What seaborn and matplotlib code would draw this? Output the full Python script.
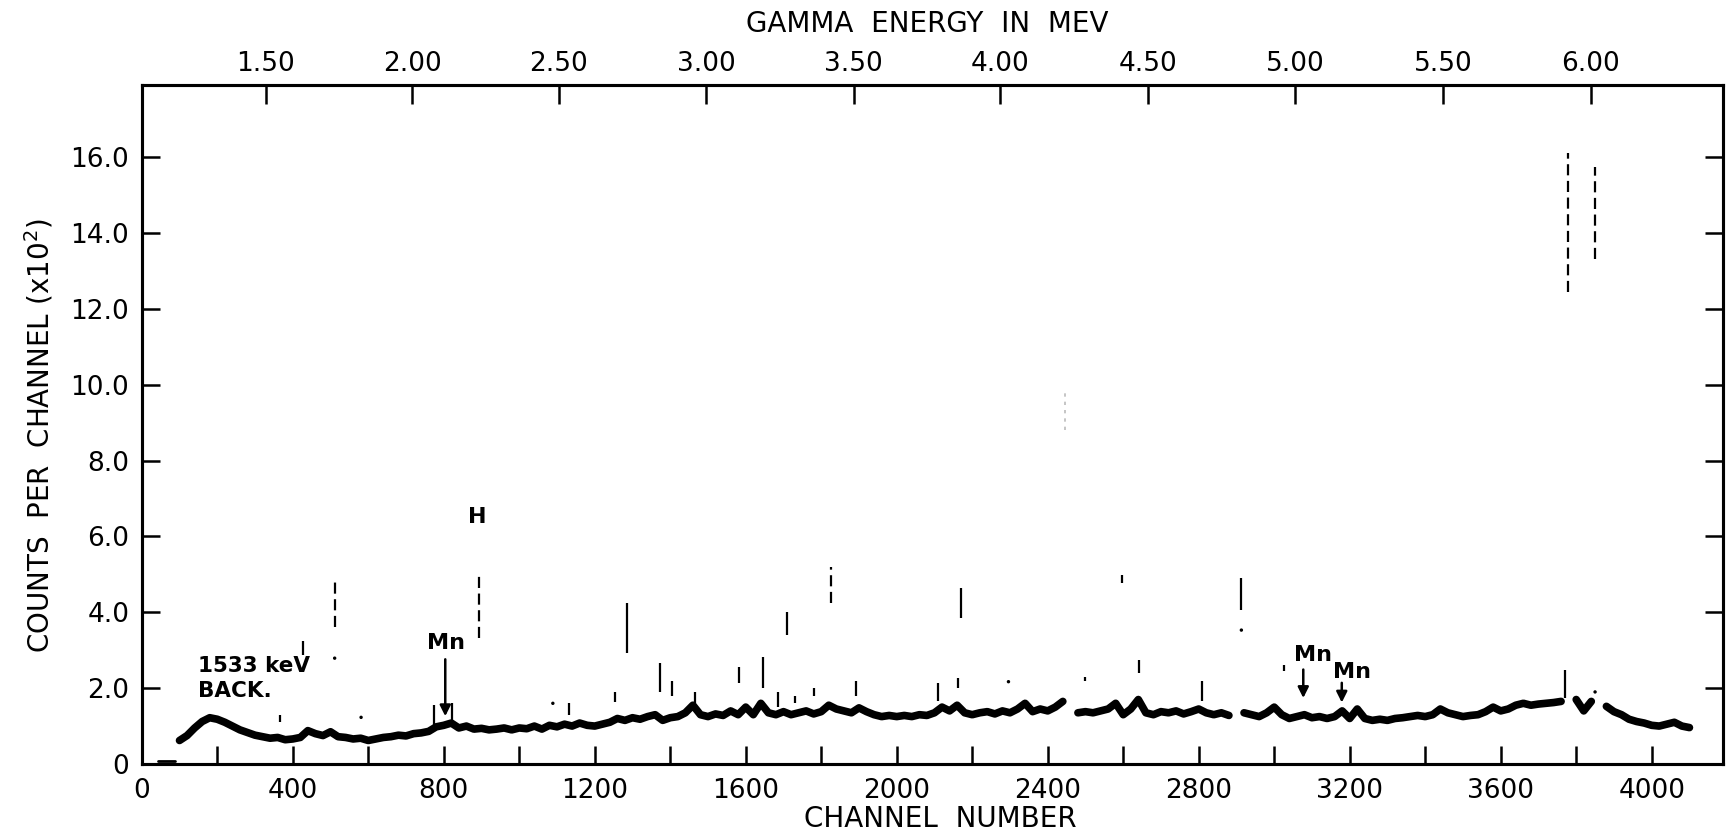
import numpy as np
import pandas as pd
import matplotlib
matplotlib.use("Agg")
import matplotlib.pyplot as plt
from matplotlib.ticker import FixedLocator
import seaborn as sns

# ---------------- data ----------------
base_channel = list(range(100, 4101, 20))
base_counts = [
    0.62, 0.75, 0.95, 1.12, 1.22, 1.18, 1.10, 1.00, 0.90, 0.83,   # 100-280
    0.76, 0.72, 0.68, 0.70, 0.64, 0.66, 0.70, 0.88, 0.80, 0.75,   # 300-480
    0.85, 0.72, 0.70, 0.66, 0.68, 0.62, 0.66, 0.70, 0.72, 0.76,   # 500-680
    0.74, 0.80, 0.82, 0.86, 0.98, 1.02, 1.08, 0.95, 1.00, 0.92,   # 700-880
    0.94, 0.90, 0.92, 0.95, 0.90, 0.95, 0.93, 1.00, 0.92, 1.02,   # 900-1080
    0.98, 1.05, 1.00, 1.08, 1.02, 1.00, 1.05, 1.10, 1.20, 1.15,   # 1100-1280
    1.22, 1.18, 1.25, 1.30, 1.15, 1.22, 1.25, 1.35, 1.55, 1.30,   # 1300-1480
    1.25, 1.32, 1.28, 1.40, 1.30, 1.50, 1.30, 1.60, 1.35, 1.30,   # 1500-1680
    1.38, 1.30, 1.35, 1.40, 1.32, 1.38, 1.55, 1.45, 1.40, 1.35,   # 1700-1880
    1.48, 1.38, 1.30, 1.25, 1.28, 1.25, 1.28, 1.25, 1.30, 1.28,   # 1900-2080
    1.35, 1.50, 1.40, 1.55, 1.35, 1.30, 1.35, 1.38, 1.32, 1.40,   # 2100-2280
    1.35, 1.45, 1.60, 1.38, 1.45, 1.40, 1.50, 1.65, np.nan, 1.35,  # 2300-2480
    1.38, 1.35, 1.40, 1.45, 1.60, 1.30, 1.45, 1.70, 1.35, 1.30,   # 2500-2680
    1.38, 1.35, 1.40, 1.32, 1.38, 1.45, 1.35, 1.30, 1.35, 1.28,   # 2700-2880
    np.nan, 1.35, 1.30, 1.25, 1.35, 1.50, 1.30, 1.20, 1.25, 1.30,  # 2900-3080
    1.22, 1.25, 1.20, 1.25, 1.40, 1.20, 1.45, 1.20, 1.15, 1.18,   # 3100-3280
    1.15, 1.20, 1.22, 1.25, 1.28, 1.25, 1.30, 1.45, 1.35, 1.30,   # 3300-3480
    1.25, 1.28, 1.30, 1.38, 1.50, 1.40, 1.45, 1.55, 1.60, 1.55,   # 3500-3680
    1.58, 1.60, 1.62, 1.65, np.nan, 1.70, 1.40, 1.65, np.nan, 1.52,  # 3700-3880
    1.38, 1.30, 1.18, 1.12, 1.08, 1.02, 1.00, 1.05, 1.10, 1.00,   # 3900-4080
    0.96,                                                          # 4100
]

# short stretch lying on the axis before the spectrum starts
zero_channel = [43, 88]
zero_counts = [0.08, 0.08]

# narrow peaks: drawn as vertical strokes (channel, low, high)
solid_peak_channel = [365, 428, 775, 822, 1133, 1254, 1285, 1373, 1404, 1466, 1583,
                      1647, 1686, 1710, 1731, 1781, 1891, 2110, 2163, 2169, 2499,
                      2597, 2643, 2810, 2913, 3026, 3771]
solid_peak_low = [1.10, 2.88, 1.03, 1.10, 1.30, 1.64, 2.92, 1.91, 1.80, 1.60, 2.13,
                  2.00, 1.50, 3.40, 1.60, 1.80, 1.80, 1.65, 2.00, 3.84, 2.20,
                  4.76, 2.40, 1.67, 4.06, 2.45, 1.74]
solid_peak_high = [1.30, 3.23, 1.56, 1.60, 1.60, 1.90, 4.24, 2.66, 2.20, 1.90, 2.56,
                   2.83, 1.90, 4.00, 1.80, 2.00, 2.20, 2.13, 2.26, 4.65, 2.30,
                   4.98, 2.75, 2.20, 4.90, 2.60, 2.49]

dotted_peak_channel = [511, 894, 1825, 3777, 3850]
dotted_peak_low = [3.62, 3.31, 4.24, 12.45, 13.30]
dotted_peak_high = [4.85, 4.98, 5.20, 16.10, 15.75]

faint_peak_channel = [2447]
faint_peak_low = [8.8]
faint_peak_high = [9.8]

dot_channel = [511, 581, 1089, 2296, 2913, 3850]
dot_counts = [2.79, 1.23, 1.60, 2.17, 3.53, 1.90]

# axis ticks
x_major = [0, 400, 800, 1200, 1600, 2000, 2400, 2800, 3200, 3600, 4000]
x_major_labels = ["0", "400", "800", "1200", "1600", "2000", "2400", "2800", "3200", "3600", "4000"]
x_minor = [200, 600, 1000, 1400, 1800, 2200, 2600, 3000, 3400, 3800]
y_ticks = [0, 2, 4, 6, 8, 10, 12, 14, 16]
y_labels = ["0", "2.0", "4.0", "6.0", "8.0", "10.0", "12.0", "14.0", "16.0"]
energy_labels = ["1.50", "2.00", "2.50", "3.00", "3.50", "4.00", "4.50", "5.00", "5.50", "6.00"]
energy_channel = [329, 716, 1104, 1496, 1886, 2274, 2666, 3055, 3447, 3839]

# annotations: (label, text x, text y, arrow x, arrow from, arrow to)
mn_labels = ["Mn", "Mn", "Mn"]
mn_text_x = [806, 3103, 3207]
mn_text_y = [3.18, 2.87, 2.42]
mn_arrow_x = [804, 3077, 3179]
mn_arrow_from = [2.76, 2.49, 2.14]
mn_arrow_to = [1.26, 1.74, 1.62]

# ---------------- style ----------------
sns.set_theme(style="white")
plt.rcParams["font.family"] = ["DejaVu Sans"]
plt.rcParams["axes.edgecolor"] = "black"
plt.rcParams["axes.linewidth"] = 2.2

fig = plt.figure(figsize=(17.31, 8.38), dpi=100)
ax = fig.add_axes([0.0819, 0.0883, 0.9135, 0.8103])

# spectrum, split at the gaps
df = pd.DataFrame({"channel": base_channel, "counts": base_counts})
df["segment"] = df["counts"].isna().cumsum()
df = df.dropna()
sns.lineplot(data=df, x="channel", y="counts", units="segment", estimator=None,
             color="black", linewidth=5.5, ax=ax, legend=False)
ax.plot(zero_channel, zero_counts, color="black", linewidth=2)

ax.vlines(solid_peak_channel, solid_peak_low, solid_peak_high, color="black", linewidth=1.6)
ax.vlines(dotted_peak_channel, dotted_peak_low, dotted_peak_high, color="black",
          linewidth=1.6, linestyles=(0, (5, 2.5)))
ax.vlines(faint_peak_channel, faint_peak_low, faint_peak_high, color="#bbbbbb",
          linewidth=1.2, linestyles=(0, (2, 3)))
sns.scatterplot(x=dot_channel, y=dot_counts, color="black", s=6, edgecolor="none", ax=ax)

ax.set_xlim(0, 4189)
ax.set_ylim(0, 17.9)

ax.xaxis.set_major_locator(FixedLocator(x_major))
ax.set_xticklabels(x_major_labels)
ax.xaxis.set_minor_locator(FixedLocator(x_minor))
ax.set_yticks(y_ticks)
ax.set_yticklabels(y_labels)
ax.tick_params(axis="x", which="both", direction="in", length=13, width=1.8,
               labelsize=19, pad=10, colors="black", bottom=True, top=False)
ax.tick_params(axis="y", which="both", direction="in", length=13, width=1.8,
               labelsize=19, pad=9, colors="black", left=True, right=True)
ax.set_xlabel("")
ax.set_ylabel("")

ax2 = ax.twiny()
ax2.set_xlim(ax.get_xlim())
ax2.set_xticks(energy_channel)
ax2.set_xticklabels(energy_labels)
ax2.tick_params(axis="x", direction="in", length=14, width=1.8, labelsize=19, pad=6,
                colors="black")
ax2.grid(False)
ax.grid(False)

for sp in list(ax.spines.values()) + list(ax2.spines.values()):
    sp.set_linewidth(2.2)
    sp.set_color("black")

# annotations
ax.text(150, 2.25, "1533 keV\nBACK.", ha="left", va="center", fontsize=15.5,
        fontweight="bold", linespacing=1.35, color="black")
ax.text(888, 6.5, "H", ha="center", va="center", fontsize=16, fontweight="bold",
        color="black")
for lab, tx, ty, axx, a0, a1 in zip(mn_labels, mn_text_x, mn_text_y,
                                    mn_arrow_x, mn_arrow_from, mn_arrow_to):
    ax.text(tx, ty, lab, ha="center", va="center", fontsize=16, fontweight="bold",
            color="black")
    ax.annotate("", xy=(axx, a1), xytext=(axx, a0),
                arrowprops=dict(arrowstyle="-|>", color="black", lw=1.8,
                                mutation_scale=16, shrinkA=0, shrinkB=0))

fig.text(0.0223, 0.48, "COUNTS  PER  CHANNEL (x10$^2$)", rotation=90,
         ha="center", va="center", fontsize=20, color="black")
fig.text(0.543, 0.0227, "CHANNEL  NUMBER", ha="center", va="center",
         fontsize=20, color="black")
fig.text(0.5355, 0.971, "GAMMA  ENERGY  IN  MEV", ha="center", va="center",
         fontsize=20, color="black")

fig.savefig("out.png", dpi=100)
